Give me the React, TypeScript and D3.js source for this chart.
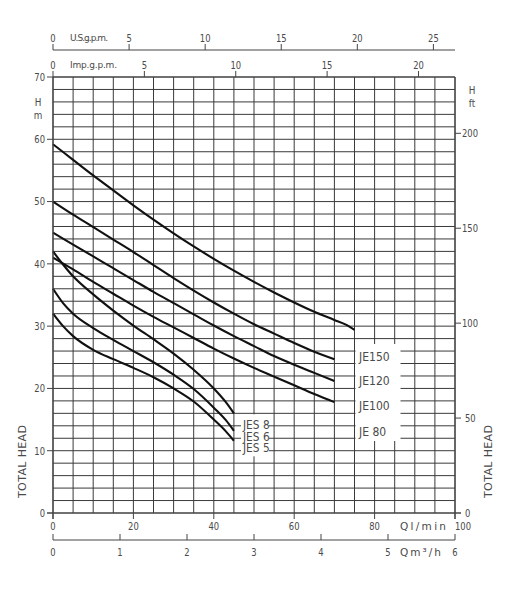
import React from "react";
import * as d3 from "d3";

// ---------- data ----------
const flowJE = [0, 5, 10, 15, 20, 25, 30, 35, 40, 45, 50, 55, 60, 65, 70];
const flowJE150 = [0, 5, 10, 15, 20, 25, 30, 35, 40, 45, 50, 55, 60, 65, 70, 73, 75];
const flowJES = [0, 2.5, 5, 10, 15, 20, 25, 30, 35, 40, 43, 45];

const headJE150 = [59.2, 56.7, 54.2, 51.8, 49.4, 47.1, 44.9, 42.8, 40.8, 38.9, 37.1, 35.4, 33.8, 32.3, 31.0, 30.2, 29.4];
const headJE120 = [50, 47.9, 45.9, 43.9, 41.9, 39.8, 37.7, 35.7, 33.8, 32.0, 30.3, 28.8, 27.3, 25.9, 24.7];
const headJE100 = [45, 43.1, 41.2, 39.3, 37.4, 35.5, 33.7, 31.9, 30.1, 28.4, 26.8, 25.2, 23.8, 22.5, 21.2];
const headJE80 = [41, 39.1, 37.1, 35.2, 33.3, 31.5, 29.8, 28.1, 26.4, 24.8, 23.3, 21.9, 20.5, 19.1, 17.8];
const headJES8 = [42, 39.9, 38.0, 35.1, 32.5, 30.1, 27.9, 25.6, 23.0, 20.0, 17.8, 16.0];
const headJES6 = [36, 33.7, 32.0, 29.7, 27.8, 26.0, 24.2, 22.2, 19.9, 16.9, 14.9, 13.2];
const headJES5 = [32, 30.0, 28.4, 26.2, 24.7, 23.3, 21.8, 20.0, 17.9, 15.0, 13.1, 11.6];

const jeLabels = ["JE150", "JE120", "JE100", "JE 80"];
const jesLabels = ["JES 8", "JES 6", "JES 5"];

const lminTicks = [0, 20, 40, 60, 80, 100];
const m3hTicks = [0, 1, 2, 3, 4, 5, 6];
const usGpmTicks = [0, 5, 10, 15, 20, 25];
const impGpmTicks = [0, 5, 10, 15, 20];
const headTicks = [0, 10, 20, 30, 40, 50, 60, 70];
const ftTicks = [0, 50, 100, 150, 200];

// unit conversions (to l/min and m)
const US_GPM = 3.785;
const IMP_GPM = 4.546;
const M3H = 1000 / 60;
const FT = 0.3048;

const FONT = "'DejaVu Sans', sans-serif";
const TXT = "#4a4a4a";

function T({ x, y, children, size = 10.5, anchor = "middle", sx = 0.8, rot = 0, len, adj = "spacing" }: any) {
  return (
    <text
      transform={`translate(${x},${y}) rotate(${rot}) scale(${sx},1)`}
      textAnchor={anchor}
      dominantBaseline="central"
      fontSize={size}
      fontFamily={FONT}
      fill={TXT}
      textLength={len}
      lengthAdjust={len ? adj : undefined}
    >
      {children}
    </text>
  );
}

export default function App() {
  const W = 510, H = 600;
  const x = d3.scaleLinear().domain([0, 100]).range([53, 455]);
  const y = d3.scaleLinear().domain([0, 70]).range([513, 77]);

  const vGrid = d3.range(0, 101, 5);
  const hGrid = d3.range(0, 71, 2);

  const line = d3
    .line<[number, number]>()
    .x((d) => x(d[0]))
    .y((d) => y(d[1]))
    .curve(d3.curveMonotoneX);

  const series: [number[], number[]][] = [
    [flowJE150, headJE150],
    [flowJE, headJE120],
    [flowJE, headJE100],
    [flowJE, headJE80],
    [flowJES, headJES8],
    [flowJES, headJES6],
    [flowJES, headJES5],
  ];

  const x0 = x(0), x1 = x(100), y0 = y(0), y1 = y(70);
  const gridColor = "#3a3a3a";

  // label positions (head values the labels sit on)
  const jeLabelHeads = [25.0, 21.1, 17.1, 13.0];
  const jesLabelHeads = [14.1, 12.2, 10.4];

  return (
    <svg width={W} height={H} style={{ position: "absolute", left: 0, top: 0, background: "#fff" }}>
      {/* grid */}
      <g stroke={gridColor} strokeWidth={1}>
        {vGrid.map((v) => (
          <line key={"v" + v} x1={x(v)} x2={x(v)} y1={y1} y2={y0} />
        ))}
        {hGrid.map((h) => (
          <line key={"h" + h} x1={x0} x2={x1} y1={y(h)} y2={y(h)} />
        ))}
      </g>

      {/* white label boxes */}
      <rect x={x(75) + 1} y={344} width={45} height={97} fill="#fff" />
      <rect x={241} y={y(16) + 1} width={28} height={42} fill="#fff" />

      {/* curves */}
      <g fill="none" stroke="#111" strokeWidth={2.1}>
        {series.map(([qs, hs], i) => (
          <path key={i} d={line(qs.map((q, j) => [q, hs[j]]) as [number, number][]) || ""} />
        ))}
      </g>

      {/* labels */}
      {jeLabels.map((t, i) => (
        <T key={t} x={359} y={y(jeLabelHeads[i])} anchor="start" size={11.4} sx={0.95}>
          {t}
        </T>
      ))}
      {jesLabels.map((t, i) => (
        <T key={t} x={243} y={y(jesLabelHeads[i])} anchor="start" size={11.4} sx={0.93}>
          {t}
        </T>
      ))}

      {/* axes frame */}
      <g stroke="#444" strokeWidth={1.2} fill="none">
        <line x1={x0} x2={x0} y1={y1} y2={y0 + 6} />
        <line x1={x1} x2={x1} y1={y1} y2={y0 + 6} />
        <line x1={x0 - 6} x2={x1 + 6} y1={y0} y2={y0} />
        <line x1={x0} x2={x1} y1={y1} y2={y1} />
      </g>

      {/* left head axis */}
      <g stroke="#444" strokeWidth={1}>
        {headTicks.map((h) => (
          <line key={h} x1={x0 - 6} x2={x0} y1={y(h)} y2={y(h)} />
        ))}
      </g>
      {headTicks.map((h) => (
        <T key={h} x={45} y={y(h)} anchor="end">
          {h}
        </T>
      ))}
      <T x={38} y={102} size={11}>H</T>
      <T x={38} y={115} size={11}>m</T>

      {/* right ft axis */}
      <g stroke="#444" strokeWidth={1}>
        {ftTicks.map((f) => (
          <line key={f} x1={x1} x2={x1 + 6} y1={y(f * FT)} y2={y(f * FT)} />
        ))}
      </g>
      {ftTicks.map((f) => (
        <T key={f} x={f >= 100 ? 462 : 465} y={y(f * FT)} anchor="start">
          {f}
        </T>
      ))}
      <T x={472} y={90} size={11}>H</T>
      <T x={472} y={103} size={11}>ft</T>

      {/* TOTAL HEAD titles */}
      <T x={22} y={461.5} rot={-90} size={11} sx={1} len={73}>TOTAL HEAD</T>
      <T x={488} y={461.5} rot={-90} size={11} sx={1} len={73}>TOTAL HEAD</T>

      {/* bottom l/min axis */}
      <g stroke="#444" strokeWidth={1}>
        {lminTicks.map((q) => (
          <line key={q} x1={x(q)} x2={x(q)} y1={y0} y2={y0 + 6} />
        ))}
      </g>
      {lminTicks.map((q) => (
        <T key={q} x={x(q)} y={526} anchor={q === 100 ? "start" : "middle"}>
          {q}
        </T>
      ))}
      <T x={400} y={526} anchor="start" size={10.5} sx={1} len={46}>Ql/min</T>

      {/* m3/h axis */}
      <g stroke="#444" strokeWidth={1}>
        <line x1={x0} x2={x1} y1={540} y2={540} />
        {m3hTicks.map((m) => (
          <line key={m} x1={x(m * M3H)} x2={x(m * M3H)} y1={534} y2={540} />
        ))}
      </g>
      {m3hTicks.map((m) => (
        <T key={m} x={x(m * M3H)} y={552}>
          {m}
        </T>
      ))}
      <T x={400} y={552} anchor="start" size={10.5} sx={1} len={41}>Qm³/h</T>

      {/* top US gpm axis */}
      <g stroke="#444" strokeWidth={1}>
        <line x1={x0} x2={x1} y1={50} y2={50} />
        {usGpmTicks.map((g) => (
          <line key={g} x1={x(g * US_GPM)} x2={x(g * US_GPM)} y1={44} y2={50} />
        ))}
      </g>
      {usGpmTicks.map((g) => (
        <T key={g} x={x(g * US_GPM)} y={38}>
          {g}
        </T>
      ))}
      <T x={70} y={38} anchor="start" size={9} sx={1} len={38}>U.S.g.p.m.</T>

      {/* top Imp gpm axis */}
      <g stroke="#444" strokeWidth={1}>
        {impGpmTicks.map((g) => (
          <line key={g} x1={x(g * IMP_GPM)} x2={x(g * IMP_GPM)} y1={71} y2={y1} />
        ))}
      </g>
      {impGpmTicks.map((g) => (
        <T key={g} x={x(g * IMP_GPM)} y={65}>
          {g}
        </T>
      ))}
      <T x={70} y={65} anchor="start" size={9} sx={1} len={47}>Imp.g.p.m.</T>
    </svg>
  );
}
